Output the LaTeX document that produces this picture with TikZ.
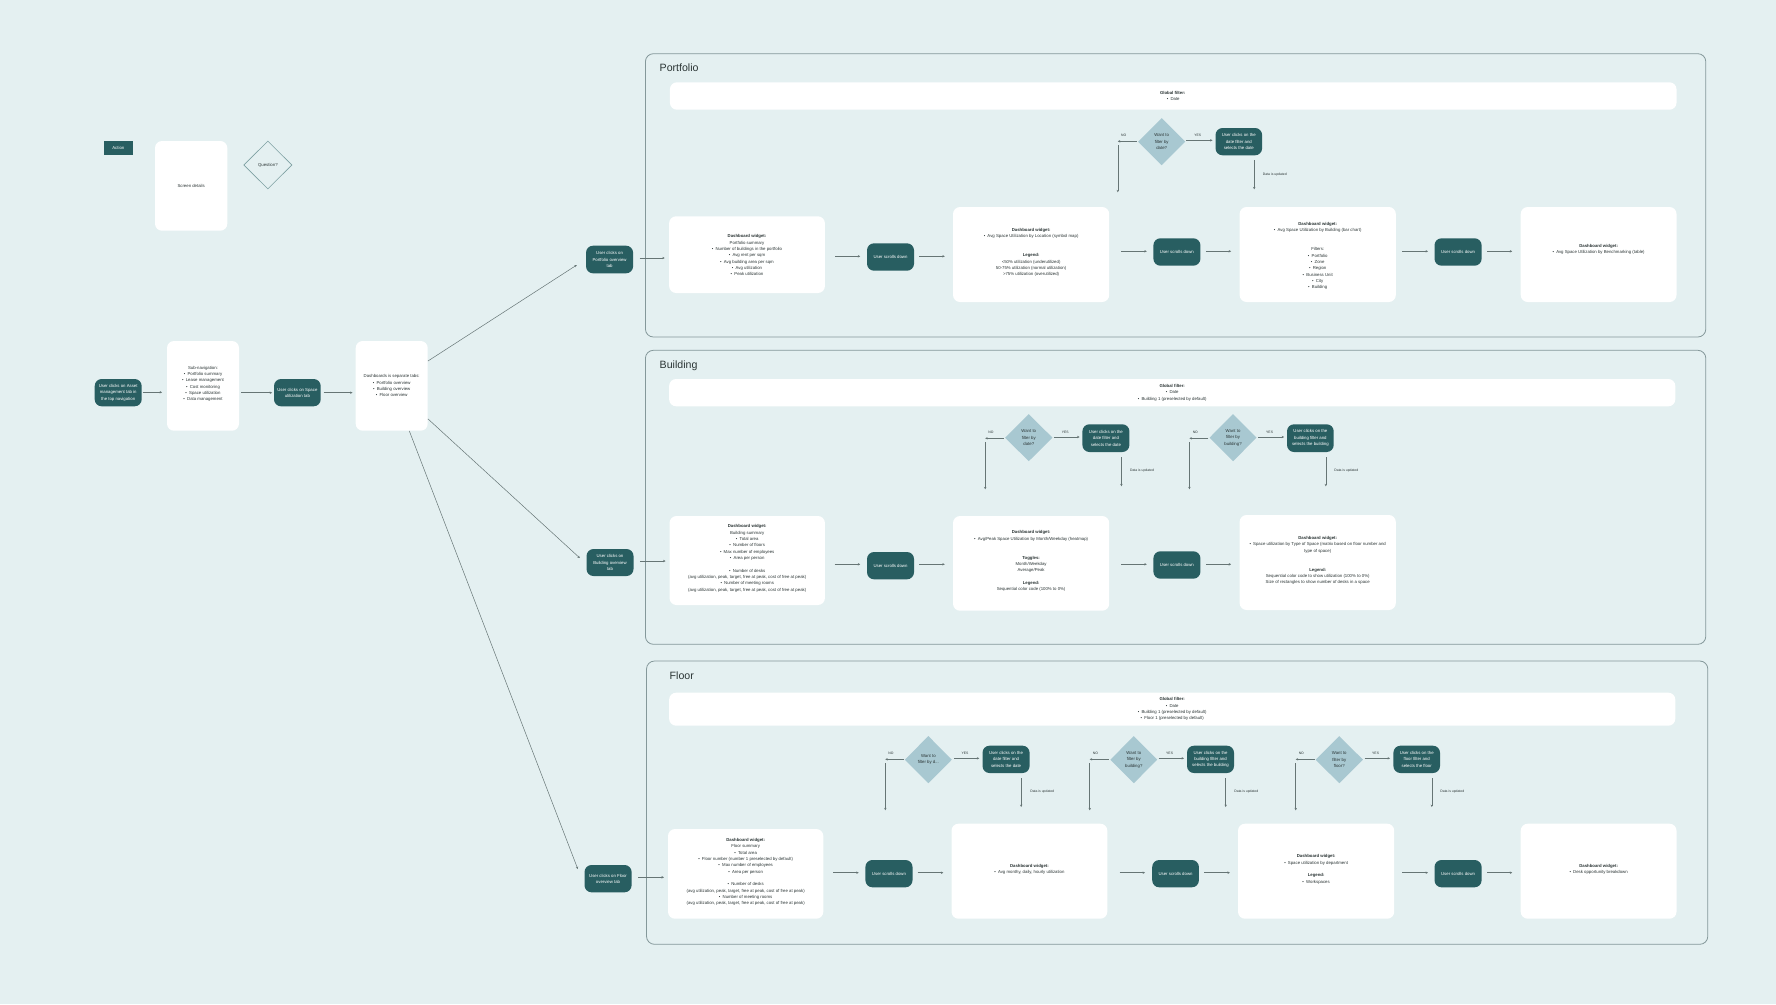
\documentclass[tikz,border=0pt]{standalone}
\usepackage{fontspec}
\setmainfont{Liberation Sans}
\usetikzlibrary{shapes.geometric,arrows.meta}
\definecolor{bgc}{HTML}{E4F0F1}
\definecolor{teal}{HTML}{285E61}
\definecolor{dia}{HTML}{A8C8D1}
\definecolor{panelc}{HTML}{84989A}
\definecolor{linec}{HTML}{667575}
\definecolor{inkc}{HTML}{2A3434}
\tikzset{
  basetext/.style={font=\fontsize{4.3}{6.33}\selectfont,text=inkc,align=center,inner sep=0pt},
  whitebox/.style={basetext,fill=white,rounded corners=7pt},
  darkbox/.style={basetext,fill=teal,text=white,rounded corners=7pt},
  actionkey/.style={basetext,fill=teal,text=white},
  question/.style={basetext,diamond,fill=dia},
  questionkey/.style={basetext,diamond,draw=teal!55!bgc,line width=0.6pt},
  panel/.style={draw=panelc,line width=0.8pt,rounded corners=8pt},
  paneltitle/.style={font=\fontsize{10.6}{12}\selectfont,text=inkc,anchor=west,inner sep=0pt},
  small/.style={font=\fontsize{3.4}{4}\selectfont,text=inkc,inner sep=0pt},
  flow/.style={draw=linec,line width=0.5pt,-{Stealth[length=2.4pt,width=2.4pt]}},
  gaps/.style 2 args={shorten <=#1pt,shorten >=#2pt}
}
\newcommand{\bx}[7]{\node[#1,minimum width={(#5-#3)*1pt},minimum height={(#6-#4)*1pt}] (#2) at ({(#3+#5)/2},{(#4+#6)/2}) {#7};}
\newcommand{\lift}[2]{\raisebox{\dimexpr#1pt-2.2pt\relax}[0pt][0pt]{\begin{tabular}{@{}c@{}}#2\end{tabular}}}
\newcommand{\wgt}{\textbf{Dashboard widget:}}
\newcommand{\scroll}{User scrolls down}
\newcommand{\blt}{•\hspace{2.2pt}}
\newcommand{\avgline}{(avg utilization, peak, target, free at peak, cost of free at peak)}
\begin{document}
\begin{tikzpicture}[x=1pt,y=-1pt]
\fill[bgc] (0,0) rectangle (1776,1004);
\useasboundingbox (0,0) rectangle (1776,1004);

% panels
\bx{panel}{ppanel}{645.4}{53.7}{1705.8}{337}{}
\bx{panel}{bpanel}{645.4}{350.3}{1705.8}{644.3}{}
\bx{panel}{fpanel}{646.5}{661}{1707.8}{944.3}{}
\node[paneltitle] (ptitle) at (659.5,68) {Portfolio};
\node[paneltitle] (btitle) at (659.5,366) {Building};
\node[paneltitle] (ftitle) at (669.5,675.5) {Floor};

% legend
\bx{actionkey}{keya}{104}{141}{132.7}{154.7}{Action}
\bx{whitebox}{keys}{155}{141}{227.3}{230.7}{Screen details}
\bx{questionkey}{keyq}{243.7}{141}{292}{189}{Question?}

% entry flow
\bx{darkbox}{ua}{94.7}{379}{141.7}{406.3}{User clicks on Asset\\management tab in\\the top navigation}
\bx{whitebox}{sn}{167}{341}{239}{430.7}{\lift{3}{Sub-navigation:\\\blt Portfolio summary\\\blt Lease management\\\blt Cost monitoring\\\blt Space utilization\\\blt Data management}}
\bx{darkbox}{us}{274}{379}{320.7}{406.3}{User clicks on Space\\utilization tab}
\bx{whitebox}{db}{355.7}{341}{427.7}{430.7}{Dashboards is separate tabs:\\\blt Portfolio overview\\\blt Building overview\\\blt Floor overview}
\draw[flow,gaps={0.6}{4.7}] (ua.east |- 0,392.3) -- (sn.west |- 0,392.3);
\draw[flow,gaps={2}{1.7}] (sn.east |- 0,392.7) -- (us.west |- 0,392.7);
\draw[flow,gaps={2.6}{3}] (us.east |- 0,392.7) -- (db.west |- 0,392.7);

% portfolio
\bx{whitebox}{pbar}{669.9}{82.3}{1676.5}{109.7}{\hspace{-1pt}\textbf{Global filter:}\\\blt Date}
\bx{darkbox}{pt}{586}{245.7}{633.1}{273.3}{User clicks on\\Portfolio overview\\tab}
\bx{whitebox}{p1}{669.1}{216.3}{824.9}{293}{\lift{0}{\wgt\\Portfolio summary\\\blt Number of buildings in the portfolio\\\blt Avg rent per sqm\\\blt Avg building area per sqm\\\blt Avg utilization\\\blt Peak utilization}}
\bx{darkbox}{ps1}{867}{243.3}{914}{270.7}{\scroll}
\bx{whitebox}{p2}{953}{207}{1109.2}{302}{\lift{3}{\wgt\\\blt Avg Space Utilization by Location (symbol map)\\[12.66pt]\textbf{Legend:}\\<50\% utilization (underutilized)\\50-75\% utilization (normal utilization)\\>75\% utilization (overutilized)}}
\bx{darkbox}{ps2}{1153.4}{238.3}{1200.4}{265.7}{\scroll}
\bx{whitebox}{p3}{1239.6}{207}{1395.8}{302}{\lift{-0.5}{\wgt\\\blt Avg Space Utilization by Building (bar chart)\\[12.66pt]Filters:\\\blt Portfolio\\\blt Zone\\\blt Region\\\blt Business Unit\\\blt City\\\blt Building}}
\bx{darkbox}{ps3}{1434.5}{238.3}{1481.6}{265.7}{\scroll}
\bx{whitebox}{p4}{1520.7}{207}{1676.5}{302}{\lift{6}{\wgt\\\blt Avg Space Utilization by Benchmarking (table)}}
\draw[flow,gaps={6.2}{4.2}] (pt.east |- 0,258) -- (p1.west |- 0,258);
\draw[flow,gaps={10.3}{6.6}] (p1.east |- 0,256.3) -- (ps1.west |- 0,256.3);
\draw[flow,gaps={5}{8}] (ps1.east |- 0,256.3) -- (p2.west |- 0,256.3);
\draw[flow,gaps={11.8}{6.4}] (p2.east |- 0,251.3) -- (ps2.west |- 0,251.3);
\draw[flow,gaps={5.2}{8.3}] (ps2.east |- 0,251.3) -- (p3.west |- 0,251.3);
\draw[flow,gaps={6.2}{6.3}] (p3.east |- 0,251.3) -- (ps3.west |- 0,251.3);
\draw[flow,gaps={5.4}{8.3}] (ps3.east |- 0,251.3) -- (p4.west |- 0,251.3);
% portfolio date decision
\bx{question}{pq}{1138}{118}{1185.4}{165.3}{Want to\\filter by\\date?}
\bx{darkbox}{pa}{1215.5}{128}{1262.1}{155.3}{User clicks on the\\date filter and\\selects the date}
\coordinate (pnh) at (1117.8,141.3);
\coordinate (pnt) at (1117.8,145.3);
\coordinate (pnb) at (1117.8,192.3);
\coordinate (pdn) at (1254.2,189.3);
\draw[flow,gaps={1}{0}] (pq.west |- pnh) -- (pnh);
\draw[flow] (pnt) -- (pnb);
\draw[flow,gaps={0.8}{2.8}] (pq.east |- 0,140.3) -- (pa.west |- 0,140.3);
\draw[flow,gaps={4.7}{0}] (pdn |- pa.south) -- (pdn);
\node[small] (pno) at (1123.7,135.7) {NO};
\node[small] (pyes) at (1197.7,135.7) {YES};
\node[small] (pupd) at (1274.8,174.3) {Data is updated};

% building
\bx{whitebox}{bbar}{669.1}{379}{1675.3}{406.3}{\textbf{Global filter:}\\\blt Date\\\blt Building 1 (preselected by default)}
\bx{darkbox}{bt}{586.5}{549}{633.5}{576}{User clicks on\\Building overview\\tab}
\bx{whitebox}{b1}{669.5}{516}{824.9}{605}{\lift{3.2}{\wgt\\Building summary\\\blt Total area\\\blt Number of floors\\\blt Max number of employees\\\blt Area per person\\[6.33pt]\blt Number of desks\\\avgline\\\blt Number of meeting rooms\\\avgline}}
\bx{darkbox}{bs1}{867}{552}{914}{579.3}{\scroll}
\bx{whitebox}{b2}{953}{516}{1109.2}{610.7}{\lift{3.2}{\wgt\\\blt Avg/Peak Space Utilization by Month/Weekday (heatmap)\\[12.66pt]\textbf{Toggles:}\\Month/Weekday\\Average/Peak\\[6.33pt]\textbf{Legend:}\\Sequential color code (100\% to 0\%)}}
\bx{darkbox}{bs2}{1153.4}{551.3}{1200.4}{578.7}{\scroll}
\bx{whitebox}{b3}{1239.6}{515}{1395.8}{610}{\lift{3}{\wgt\\\blt Space utilization by Type of Space (matrix based on floor number and\\type of space)\\[12.66pt]\textbf{Legend:}\\Sequential color code to show utilization (100\% to 0\%)\\Size of rectangles to show number of desks in a space}}
\draw[flow,gaps={6.1}{3.8}] (bt.east |- 0,561) -- (b1.west |- 0,561);
\draw[flow,gaps={9.5}{6.6}] (b1.east |- 0,564.3) -- (bs1.west |- 0,564.3);
\draw[flow,gaps={5}{8}] (bs1.east |- 0,564.3) -- (b2.west |- 0,564.3);
\draw[flow,gaps={11.8}{6.4}] (b2.east |- 0,564.3) -- (bs2.west |- 0,564.3);
\draw[flow,gaps={5.2}{8.3}] (bs2.east |- 0,564.3) -- (b3.west |- 0,564.3);
% building date decision
\bx{question}{bq1}{1005}{414}{1052.5}{461.3}{Want to\\filter by\\date?}
\bx{darkbox}{ba1}{1082.4}{424.3}{1129.4}{452}{User clicks on the\\date filter and\\selects the date}
\coordinate (b1nh) at (985.2,438.3);
\coordinate (b1nt) at (985.2,442);
\coordinate (b1nb) at (985.2,489.3);
\coordinate (b1dn) at (1121.4,486.3);
\draw[flow,gaps={1}{0}] (bq1.west |- b1nh) -- (b1nh);
\draw[flow] (b1nt) -- (b1nb);
\draw[flow,gaps={1.2}{2.7}] (bq1.east |- 0,437) -- (ba1.west |- 0,437);
\draw[flow,gaps={5}{0}] (b1dn |- ba1.south) -- (b1dn);
\node[small] (b1no) at (991,432) {NO};
\node[small] (b1yes) at (1065.2,432) {YES};
\node[small] (b1upd) at (1142,471) {Data is updated};
% building building decision
\bx{question}{bq2}{1209.5}{414}{1256.6}{461.3}{Want to\\filter by\\building?}
\bx{darkbox}{ba2}{1287}{424.3}{1333.7}{452}{User clicks on the\\building filter and\\selects the building}
\coordinate (b2nh) at (1189.4,438.3);
\coordinate (b2nt) at (1189.4,442);
\coordinate (b2nb) at (1189.4,489.3);
\coordinate (b2dn) at (1325.8,486.3);
\draw[flow,gaps={1}{0}] (bq2.west |- b2nh) -- (b2nh);
\draw[flow] (b2nt) -- (b2nb);
\draw[flow,gaps={1.6}{2.7}] (bq2.east |- 0,437) -- (ba2.west |- 0,437);
\draw[flow,gaps={5}{0}] (b2dn |- ba2.south) -- (b2dn);
\node[small] (b2no) at (1195.3,432) {NO};
\node[small] (b2yes) at (1269.6,432) {YES};
\node[small] (b2upd) at (1346.3,471) {Data is updated};

% floor
\bx{whitebox}{fbar}{669.1}{692.7}{1675.3}{725.7}{\textbf{Global filter:}\\\blt Date\\\blt Building 1 (preselected by default)\\\blt Floor 1 (preselected by default)}
\bx{darkbox}{ft}{584.5}{865}{631.6}{892.3}{User clicks on Floor\\overview tab}
\bx{whitebox}{f1}{668}{829}{823.3}{918.7}{\lift{3}{\wgt\\Floor summary\\\blt Total area\\\blt Floor number (number 1 preselected by default)\\\blt Max number of employees\\\blt Area per person\\[6.33pt]\blt Number of desks\\\avgline\\\blt Number of meeting rooms\\\avgline}}
\bx{darkbox}{fs1}{865.4}{860}{912.5}{887.3}{\scroll}
\bx{whitebox}{f2}{951.5}{823.7}{1107.3}{918.7}{\lift{3}{\wgt\\\blt Avg monthy, daily, hourly utilization}}
\bx{darkbox}{fs2}{1152.2}{860}{1198.9}{887.3}{\scroll}
\bx{whitebox}{f3}{1238}{823.7}{1394.2}{918.7}{\lift{3}{\wgt\\\blt Space utilization by department\\[6.33pt]\textbf{Legend:}\\\blt Workspaces}}
\bx{darkbox}{fs3}{1434.5}{860}{1481.6}{887.3}{\scroll}
\bx{whitebox}{f4}{1520.7}{823.7}{1676.5}{918.7}{\lift{3}{\wgt\\\blt Desk opportunity breakdown}}
\draw[flow,gaps={6.4}{3.9}] (ft.east |- 0,877.3) -- (f1.west |- 0,877.3);
\draw[flow,gaps={9.6}{6.5}] (f1.east |- 0,872.7) -- (fs1.west |- 0,872.7);
\draw[flow,gaps={5}{8}] (fs1.east |- 0,872.7) -- (f2.west |- 0,872.7);
\draw[flow,gaps={12.2}{7}] (f2.east |- 0,872.7) -- (fs2.west |- 0,872.7);
\draw[flow,gaps={5.1}{7.9}] (fs2.east |- 0,872.7) -- (f3.west |- 0,872.7);
\draw[flow,gaps={7.8}{6.3}] (f3.east |- 0,872.7) -- (fs3.west |- 0,872.7);
\draw[flow,gaps={5.4}{8.3}] (fs3.east |- 0,872.7) -- (f4.west |- 0,872.7);
% floor date decision
\bx{question}{fq1}{904.8}{736}{951.9}{783.3}{Want to\\filter by d...}
\bx{darkbox}{fa1}{982.5}{745.7}{1029.6}{773}{User clicks on the\\date filter and\\selects the date}
\coordinate (f1nh) at (885.3,759.3);
\coordinate (f1nt) at (885.3,763);
\coordinate (f1nb) at (885.3,810.3);
\coordinate (f1dn) at (1021.2,807);
\draw[flow,gaps={0.8}{0}] (fq1.west |- f1nh) -- (f1nh);
\draw[flow] (f1nt) -- (f1nb);
\draw[flow,gaps={2.3}{3}] (fq1.east |- 0,758.3) -- (fa1.west |- 0,758.3);
\draw[flow,gaps={5}{0}] (f1dn |- fa1.south) -- (f1dn);
\node[small] (f1no) at (891,753.3) {NO};
\node[small] (f1yes) at (964.9,753.3) {YES};
\node[small] (f1upd) at (1042.2,792) {Data is updated};
% floor building decision
\bx{question}{fq2}{1110.3}{736}{1157.3}{783.3}{Want to\\filter by\\building?}
\bx{darkbox}{fa2}{1187}{745.7}{1234}{773}{User clicks on the\\building filter and\\selects the building}
\coordinate (f2nh) at (1089.7,759.3);
\coordinate (f2nt) at (1089.7,763);
\coordinate (f2nb) at (1089.7,810.3);
\coordinate (f2dn) at (1225.7,807);
\draw[flow,gaps={1.5}{0}] (fq2.west |- f2nh) -- (f2nh);
\draw[flow] (f2nt) -- (f2nb);
\draw[flow,gaps={1.2}{2.8}] (fq2.east |- 0,758.3) -- (fa2.west |- 0,758.3);
\draw[flow,gaps={5}{0}] (f2dn |- fa2.south) -- (f2dn);
\node[small] (f2no) at (1095.4,753.3) {NO};
\node[small] (f2yes) at (1169.6,753.3) {YES};
\node[small] (f2upd) at (1246.3,792) {Data is updated};
% floor floor decision
\bx{question}{fq3}{1315.5}{736}{1363}{783.3}{Want to\\filter by\\floor?}
\bx{darkbox}{fa3}{1393.4}{745.7}{1440}{773}{User clicks on the\\floor filter and\\selects the floor}
\coordinate (f3nh) at (1295.7,759.3);
\coordinate (f3nt) at (1295.7,763);
\coordinate (f3nb) at (1295.7,810.3);
\coordinate (f3dn) at (1431.8,807);
\draw[flow,gaps={0.8}{0}] (fq3.west |- f3nh) -- (f3nh);
\draw[flow] (f3nt) -- (f3nb);
\draw[flow,gaps={1.5}{3.2}] (fq3.east |- 0,758.3) -- (fa3.west |- 0,758.3);
\draw[flow,gaps={5}{0}] (f3dn |- fa3.south) -- (f3dn);
\node[small] (f3no) at (1301.3,753.3) {NO};
\node[small] (f3yes) at (1375.6,753.3) {YES};
\node[small] (f3upd) at (1452.3,792) {Data is updated};

% long connectors
\draw[flow] ([yshift=24.8pt]db.east) -- ([xshift=-9pt,yshift=-5.5pt]pt.west);
\draw[flow] ([yshift=-33pt]db.east) -- ([xshift=-6.5pt,yshift=4.5pt]bt.west);
\draw[flow] ([xshift=17.6pt]db.south) -- ([xshift=-6.5pt,yshift=9.65pt]ft.west);
\end{tikzpicture}
\end{document}
